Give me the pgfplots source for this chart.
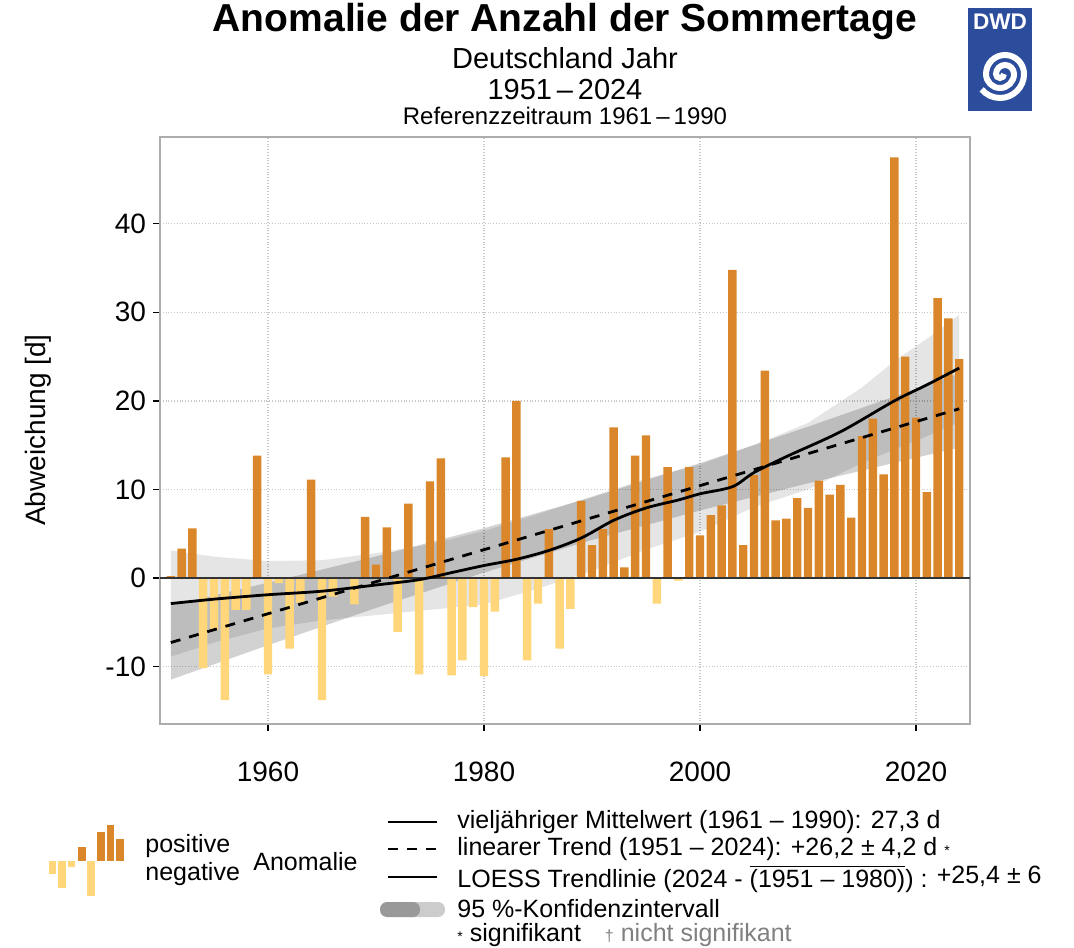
\documentclass[border=0pt]{standalone}
\usepackage{pgfplots}
\pgfplotsset{compat=1.18}
\usepackage{fontspec}
\setmainfont{Liberation Sans}
\definecolor{posc}{HTML}{D9872A}
\definecolor{negc}{HTML}{FFD67A}
\definecolor{dwdblue}{HTML}{2C4C9C}
\begin{document}
\begin{tikzpicture}
\useasboundingbox (0,0) rectangle (537pt,473.5pt);
\begin{axis}[
  at={(80pt,111.5pt)}, anchor=south west,
  width=405pt, height=293.5pt, scale only axis,
  xmin=1950, xmax=2025, ymin=-16.5, ymax=49.8,
  xtick={1960,1980,2000,2020}, ytick={-10,0,10,20,30,40},
  grid=major, grid style={densely dotted, gray!45, line width=0.7pt},
  axis line style={gray!65, line width=0.8pt},
  tick align=outside, major tick length=3.5pt,
  tick style={black, line width=0.7pt},
  xtick pos=bottom, ytick pos=left,
  xticklabel style={font=\fontsize{14}{16}\selectfont, yshift=-12pt},
  yticklabel style={font=\fontsize{14}{16}\selectfont},
  /pgf/number format/assume math mode=true,
  /pgf/number format/1000 sep={},
]
% LOESS confidence band (light)
\addplot[draw=none, fill=black, fill opacity=0.1] coordinates {
(1951,3.1)(1955,2.4)(1960,1.9)(1965,2.0)(1970,2.8)(1975,3.8)(1980,5.3)(1985,7.2)(1990,9.2)(1995,11.2)(2000,12.8)(2005,15.0)(2010,17.5)(2015,21.5)(2018,24.5)(2021,27.0)(2024,29.7)
(2024,17.6)(2021,16.0)(2018,14.5)(2015,13.0)(2010,10.0)(2005,8.0)(2000,5.2)(1995,3.2)(1990,0.8)(1985,-1.2)(1980,-3.0)(1975,-3.6)(1970,-4.2)(1965,-4.8)(1960,-5.7)(1955,-7.3)(1951,-8.9)
};
% linear trend confidence band (darker)
\addplot[draw=none, fill=black, fill opacity=0.175] coordinates {
(1951,-3.11)(1960,-0.54)(1970,2.43)(1980,5.61)(1990,9.11)(2000,12.96)(2010,17.08)(2020,21.34)(2024,23.09)
(2024,14.71)(2020,13.58)(2010,10.68)(2000,7.62)(1990,4.29)(1980,0.61)(1970,-3.39)(1960,-7.60)(1951,-11.49)
};
% positive anomalies
\addplot[ybar, bar width=0.78, bar shift=0pt, fill=posc, draw=none] coordinates {
(1951,0.2)(1952,3.3)(1953,5.6)(1959,13.8)(1964,11.1)(1969,6.9)(1970,1.5)(1971,5.7)(1973,8.4)(1975,10.9)(1976,13.5)(1982,13.6)(1983,20.0)(1986,5.5)(1989,8.7)(1990,3.7)(1991,5.5)(1992,17.0)(1993,1.2)(1994,13.8)(1995,16.1)(1997,12.5)(1999,12.5)(2000,4.8)(2001,7.1)(2002,8.2)(2003,34.8)(2004,3.7)(2005,11.6)(2006,23.4)(2007,6.5)(2008,6.7)(2009,9.0)(2010,7.9)(2011,11.0)(2012,9.4)(2013,10.5)(2014,6.8)(2015,16.0)(2016,18.0)(2017,11.7)(2018,47.5)(2019,25.0)(2020,18.1)(2021,9.7)(2022,31.6)(2023,29.3)(2024,24.7)
};
% negative anomalies
\addplot[ybar, bar width=0.78, bar shift=0pt, fill=negc, draw=none] coordinates {
(1954,-10.2)(1955,-5.9)(1956,-13.8)(1957,-3.6)(1958,-3.6)(1960,-10.9)(1961,-0.6)(1962,-8.0)(1963,-2.8)(1965,-13.8)(1966,-2.1)(1967,-0.1)(1968,-3.0)(1972,-6.1)(1974,-10.9)(1977,-11.0)(1978,-9.3)(1979,-3.3)(1980,-11.1)(1981,-3.8)(1984,-9.3)(1985,-2.9)(1987,-8.0)(1988,-3.5)(1996,-2.9)(1998,-0.3)
};
% mean line (zero)
\addplot[gray!40!black, line width=0.9pt] coordinates {(1950,0)(2025,0)};
% linear trend
\addplot[black, line width=1.4pt, dash pattern=on 5pt off 4.5pt] coordinates {(1951,-7.3)(2024,19.1)};
% LOESS
\addplot[black, line width=1.4pt, smooth] coordinates {
(1951,-2.9)(1955,-2.4)(1960,-1.9)(1965,-1.5)(1970,-0.8)(1974,-0.2)(1977,0.6)(1980,1.4)(1983,2.1)(1986,3.1)(1989,4.5)(1992,6.5)(1995,7.9)(1998,8.8)(2000,9.5)(2003,10.3)(2005,11.9)(2008,13.7)(2013,16.5)(2018,20.0)(2021,21.8)(2024,23.7)
};
\end{axis}
\begin{scope}[x=0.5pt, y=-0.5pt, yshift=473.5pt]
% titles
\node[font=\fontsize{19.5}{22}\selectfont\bfseries, inner sep=0pt] at (565,22) {Anomalie der Anzahl der Sommertage};
\node[font=\fontsize{14.5}{16}\selectfont, inner sep=0pt] at (565,58) {Deutschland Jahr};
\node[font=\fontsize{14.5}{16}\selectfont, inner sep=0pt] at (565,90) {1951\,–\,2024};
\node[font=\fontsize{12}{13}\selectfont, inner sep=0pt] at (565,116) {Referenzzeitraum 1961\,–\,1990};
% DWD logo
\fill[dwdblue] (968,8) rectangle (1032,111);
\node[white, font=\fontsize{11.3}{13}\selectfont\bfseries] at (1000,22) {DWD};
\draw[white, line width=3pt] (1004,74) arc[start angle=0, end angle=180, radius=4]
  arc[start angle=180, end angle=360, radius=9]
  arc[start angle=0, end angle=180, radius=14]
  arc[start angle=180, end angle=360, radius=19]
  arc[start angle=0, end angle=140, radius=24];
% y label
\node[rotate=90, font=\fontsize{14}{16}\selectfont] at (38,430) {Abweichung [d]};
% left legend icon
\fill[negc] (49,861) rectangle (56,874);
\fill[negc] (58,861) rectangle (66,888);
\fill[negc] (68,861) rectangle (75,867);
\fill[negc] (87,861) rectangle (95,896);
\fill[posc] (78,847) rectangle (86,861);
\fill[posc] (97,832) rectangle (105,861);
\fill[posc] (107,825) rectangle (114,861);
\fill[posc] (116,839) rectangle (124,861);
\node[anchor=west, font=\fontsize{12.5}{14}\selectfont, inner sep=0pt] at (145,846) {positive};
\node[anchor=west, font=\fontsize{12.5}{14}\selectfont, inner sep=0pt] at (145,874) {negative};
\node[anchor=west, font=\fontsize{12.5}{14}\selectfont, inner sep=0pt] at (253,862) {Anomalie};
% right legend
\draw[black, line width=0.8pt] (388,822) -- (437,822);
\draw[black, line width=1.4pt, dash pattern=on 5pt off 4.5pt] (388,849) -- (437,849);
\draw[black, line width=1.4pt] (388,877) -- (437,877);
\fill[gray!40, rounded corners=3.5pt] (400,902) rectangle (445,917);
\fill[gray!80, rounded corners=3.5pt] (380,902) rectangle (420,917);
\node[anchor=west, font=\fontsize{12.5}{14}\selectfont, inner sep=0pt] at (457,822) {vieljähriger Mittelwert (1961 – 1990): 27,3 d};
\node[anchor=west, font=\fontsize{12.5}{14}\selectfont, inner sep=0pt] at (457,849) {linearer Trend (1951 – 2024): +26,2 ± 4,2 d {\fontsize{7}{8}\selectfont *}};
\node[anchor=west, font=\fontsize{12.5}{14}\selectfont, inner sep=0pt] at (457,879) {LOESS Trendlinie (2024 - $\overline{\hbox{(1951 – 1980)}}$) : \raisebox{2pt}{+25,4 ± 6}};
\node[anchor=west, font=\fontsize{12.5}{14}\selectfont, inner sep=0pt] at (457,909) {95 \%-Konfidenzintervall};
\node[anchor=west, font=\fontsize{12.5}{14}\selectfont, inner sep=0pt] at (457,935) {{\fontsize{7}{8}\selectfont *} signifikant\hspace{12pt}{\color{gray}{\fontsize{8}{8}\selectfont †} nicht signifikant}};
\end{scope}
\end{tikzpicture}
\end{document}
